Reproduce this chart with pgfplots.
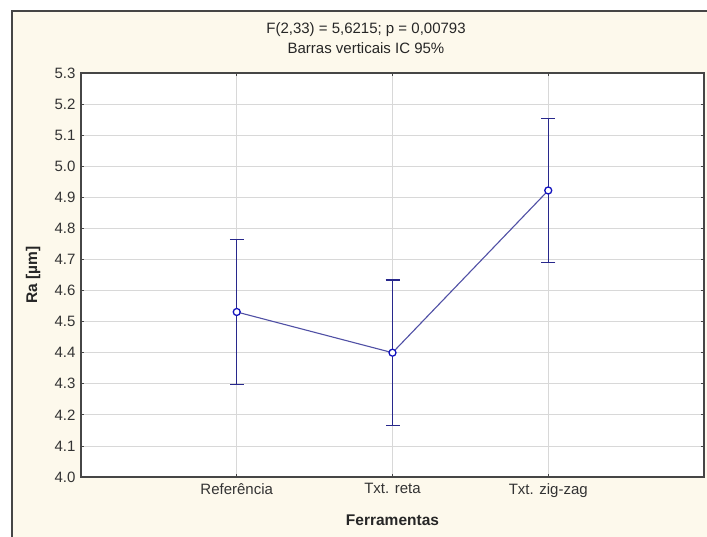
\documentclass[border=0pt]{standalone}
\usepackage{fontspec}
\setmainfont{Liberation Sans}
\usepackage{pgfplots}
\pgfplotsset{compat=1.18}
\definecolor{cream}{RGB}{253,249,236}
\definecolor{framegray}{RGB}{70,70,70}
\definecolor{gridgray}{RGB}{216,216,216}
\definecolor{barblue}{RGB}{40,40,140}
\definecolor{lineblue}{RGB}{80,80,165}
\definecolor{markblue}{RGB}{20,20,190}
\begin{document}
\begin{tikzpicture}[x=1pt,y=1pt]
\useasboundingbox (0,0) rectangle (707,536);
\fill[white] (0,0) rectangle (707,536);
\fill[cream] (12,-5) rectangle (712,525);
\draw[framegray, line width=1.2pt] (12,-5) -- (12,525) -- (712,525);
\begin{axis}[
  at={(81pt,59pt)}, anchor=south west,
  scale only axis, width=623pt, height=404pt,
  xmin=0, xmax=4, ymin=4.0, ymax=5.3,
  xtick={1,2,3},
  xticklabels={Referência, Txt. reta, Txt. zig-zag},
  ytick={4.0,4.1,...,5.3},
  /pgf/number format/fixed,
  /pgf/number format/fixed zerofill,
  /pgf/number format/precision=1,
  /pgf/number format/assume math mode=true,
  tick label style={font=\fontsize{15}{17}\selectfont, text=black!80},
  yticklabel style={xshift=-2pt},
  xticklabel style={yshift=-3pt},
  grid=major,
  major grid style={gridgray, line width=0.8pt},
  axis line style={framegray, line width=1.3pt},
  tick align=inside, major tick length=3pt,
  tick style={framegray, line width=0.8pt},
  axis background/.style={fill=white},
  xlabel={Ferramentas},
  ylabel={Ra [µm]},
  every axis x label/.style={at={(axis description cs:0.5,-0.107)}, anchor=center,
    font=\fontsize{15.5}{18}\selectfont\bfseries, text=black!85},
  every axis y label/.style={at={(axis description cs:-0.077,0.5)}, rotate=90, anchor=center,
    font=\fontsize{15.5}{18}\selectfont\bfseries, text=black!85},
]
\addplot[draw=none, mark=none,
  error bars/.cd, y dir=both, y explicit,
  error bar style={barblue, line width=1.1pt},
  error mark options={rotate=90, mark size=7pt, barblue, line width=1.1pt}]
  coordinates {
    (1,4.531) +- (0,0.233)
    (2,4.400) +- (0,0.234)
    (3,4.922) +- (0,0.233)
  };
\addplot[lineblue, line width=1.1pt, mark=*, mark size=3.5pt,
  mark options={draw=markblue, fill=white, line width=1.3pt}]
  coordinates {
    (1,4.531)
    (2,4.400)
    (3,4.922)
  };
\end{axis}
\node[font=\fontsize{15}{19.5}\selectfont, text=black!85, align=center, anchor=center]
  at (366,498) {F(2,33) = 5,6215; p = 0,00793\\Barras verticais IC 95\%};
\end{tikzpicture}
\end{document}
